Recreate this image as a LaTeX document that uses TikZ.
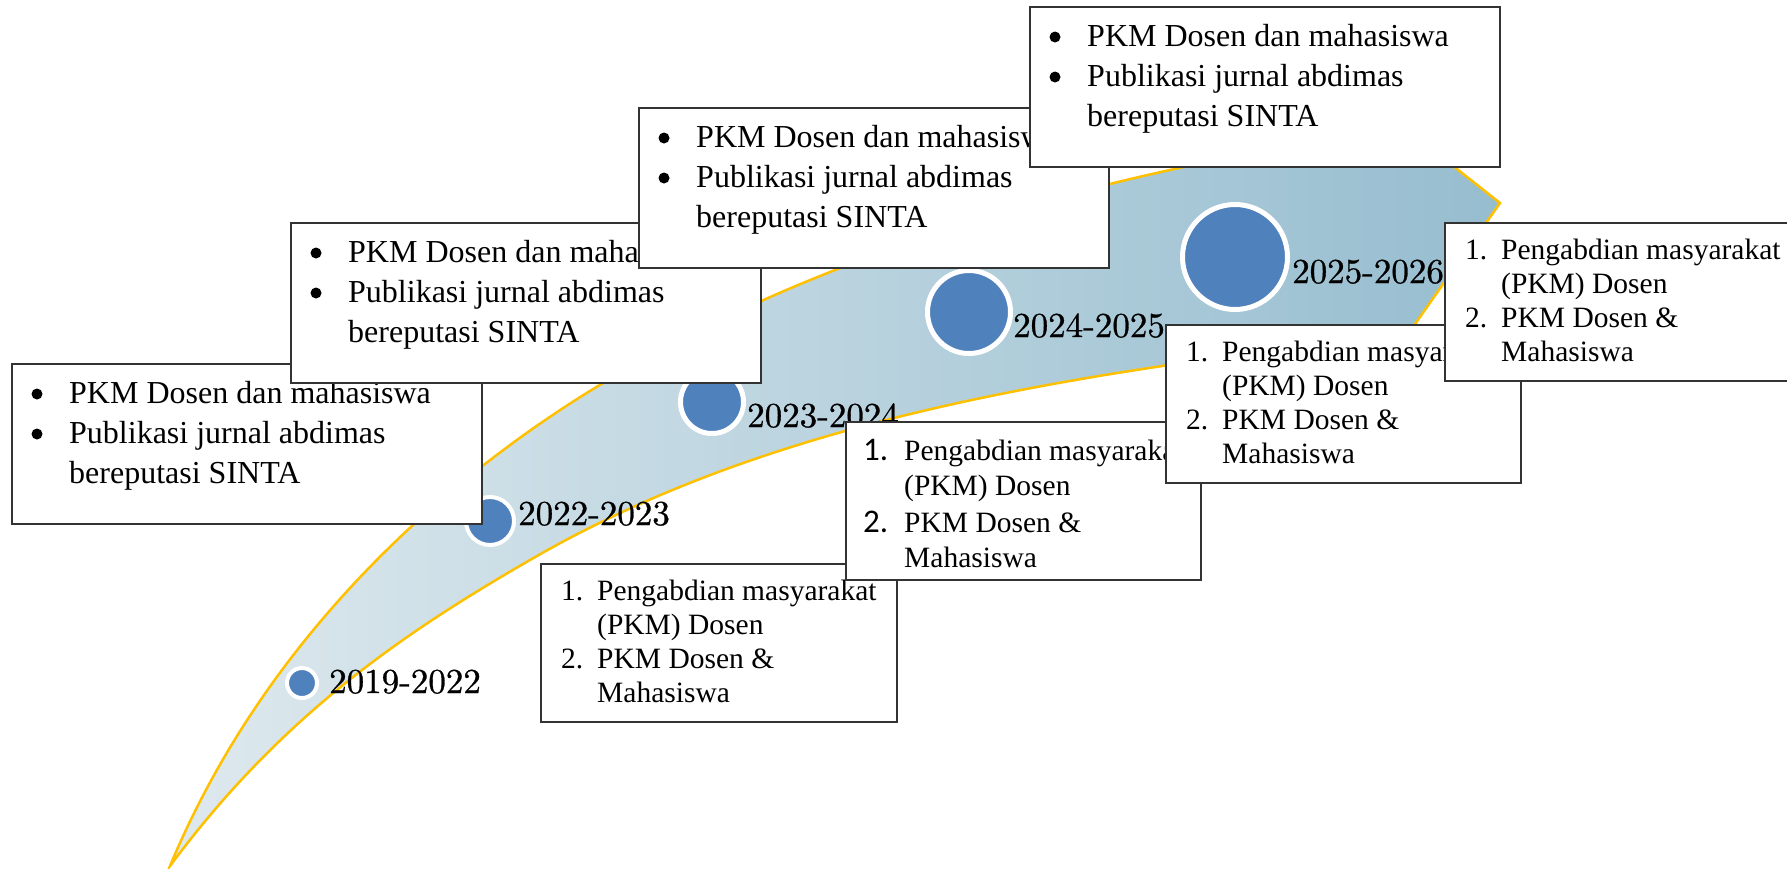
\documentclass[tikz,border=0pt]{standalone}
\usepackage{fontspec}
\newfontfamily\tnr{Liberation Serif}
\newfontfamily\carl{Carlito}
\newfontfamily\yrfont[FakeBold=0.8]{lmroman10-regular.otf}
\definecolor{gold}{HTML}{FFC000}
\definecolor{cblue}{HTML}{4F81BD}
\definecolor{bandL}{RGB}{222,233,238}
\definecolor{bandR}{RGB}{150,189,207}
\definecolor{boxgray}{HTML}{333333}
\newcommand\bulbox[3]{%
  \node[boxst, minimum width=470, minimum height=160] (#1) at (#2,#3) {};
  \fill ([shift={(26,31)}]#1.north west) circle (5.5);
  \node[btxt] (#1-l1) at ([shift={(58,40)}]#1.north west) {PKM Dosen dan mahasiswa};
  \fill ([shift={(26,71)}]#1.north west) circle (5.5);
  \node[btxt] (#1-l2) at ([shift={(58,80)}]#1.north west) {Publikasi jurnal abdimas};
  \node[btxt] (#1-l3) at ([shift={(58,120)}]#1.north west) {bereputasi SINTA};
}
\newcommand\numbox[4]{%
  \node[boxst, minimum width=#4, minimum height=158] (#1) at (#2,#3) {};
  \node[ntxt] (#1-n1) at ([shift={(21,37)}]#1.north west) {1.};
  \node[ntxt] (#1-l1) at ([shift={(57,37)}]#1.north west) {Pengabdian masyarakat};
  \node[ntxt] (#1-l2) at ([shift={(57,71)}]#1.north west) {(PKM) Dosen};
  \node[ntxt] (#1-n2) at ([shift={(21,105)}]#1.north west) {2.};
  \node[ntxt] (#1-l3) at ([shift={(57,105)}]#1.north west) {PKM Dosen \&};
  \node[ntxt] (#1-l4) at ([shift={(57,139)}]#1.north west) {Mahasiswa};
}
\begin{document}
\begin{tikzpicture}[x=1pt,y=-1pt,
  boxst/.style={draw=boxgray, line width=2, fill=white, inner sep=0, anchor=north west},
  btxt/.style={anchor=base west, inner sep=0, font=\tnr\fontsize{32}{40}\selectfont},
  ntxt/.style={anchor=base west, inner sep=0, font=\tnr\fontsize{29.5}{34}\selectfont},
  gnum/.style={anchor=base west, inner sep=0, font=\carl\fontsize{33}{34}\selectfont},
  yr/.style={anchor=base west, inner sep=0, font=\yrfont\fontsize{35}{40}\selectfont},
  dotst/.style={circle, fill=cblue, draw=white, inner sep=0}]
\useasboundingbox (0,0) rectangle (1787,868);
\clip (0,0) rectangle (1787,868);
% band
\path[draw=gold, line width=2.5, line join=miter, left color=bandL, right color=bandR]
  (170,866) .. controls (280,602) and (493,449) .. (603,383)
  .. controls (843,239) and (1135,166) .. (1405,128)
  -- (1500,203) -- (1408,334)
  .. controls (1108,370) and (790,409) .. (530,560)
  .. controls (400,635) and (280,717.5) .. (170,866)
  -- cycle;
% milestones
\node[dotst, line width=4, minimum size=30] (c1) at (302,683) {};
\node[dotst, line width=4, minimum size=48] (c2) at (490,521) {};
\node[dotst, line width=5, minimum size=63] (c3) at (712,402) {};
\node[dotst, line width=5, minimum size=83] (c4) at (969,312) {};
\node[dotst, line width=5, minimum size=105] (c5) at (1235,257) {};
\node[yr] (y1) at (329,693) {2019-2022};
\node[yr] (y2) at (518,525) {2022-2023};
\node[yr] (y3) at (747,427) {2023-2024};
\node[yr] (y4) at (1013,337) {2024-2025};
\node[yr] (y5) at (1292,283) {2025-2026};
% boxes
\bulbox{bA}{11}{363}
\bulbox{bB}{290}{222}
\bulbox{bC}{638}{107}
\bulbox{bD}{1029}{6}
\numbox{nH}{540}{563}{356}
% box G with sans numbers
\node[boxst, minimum width=355, minimum height=158] (nG) at (845,421) {};
\node[gnum] (nG-n1) at ([shift={(18,39)}]nG.north west) {1.};
\node[ntxt] (nG-l1) at ([shift={(59,39)}]nG.north west) {Pengabdian masyarakat};
\node[ntxt] (nG-l2) at ([shift={(59,74)}]nG.north west) {(PKM) Dosen};
\node[gnum] (nG-n2) at ([shift={(18,111)}]nG.north west) {2.};
\node[ntxt] (nG-l3) at ([shift={(59,111)}]nG.north west) {PKM Dosen \&};
\node[ntxt] (nG-l4) at ([shift={(59,146)}]nG.north west) {Mahasiswa};
\numbox{nE}{1165}{324}{355}
\numbox{nF}{1444}{222}{355}
\end{tikzpicture}
\end{document}
